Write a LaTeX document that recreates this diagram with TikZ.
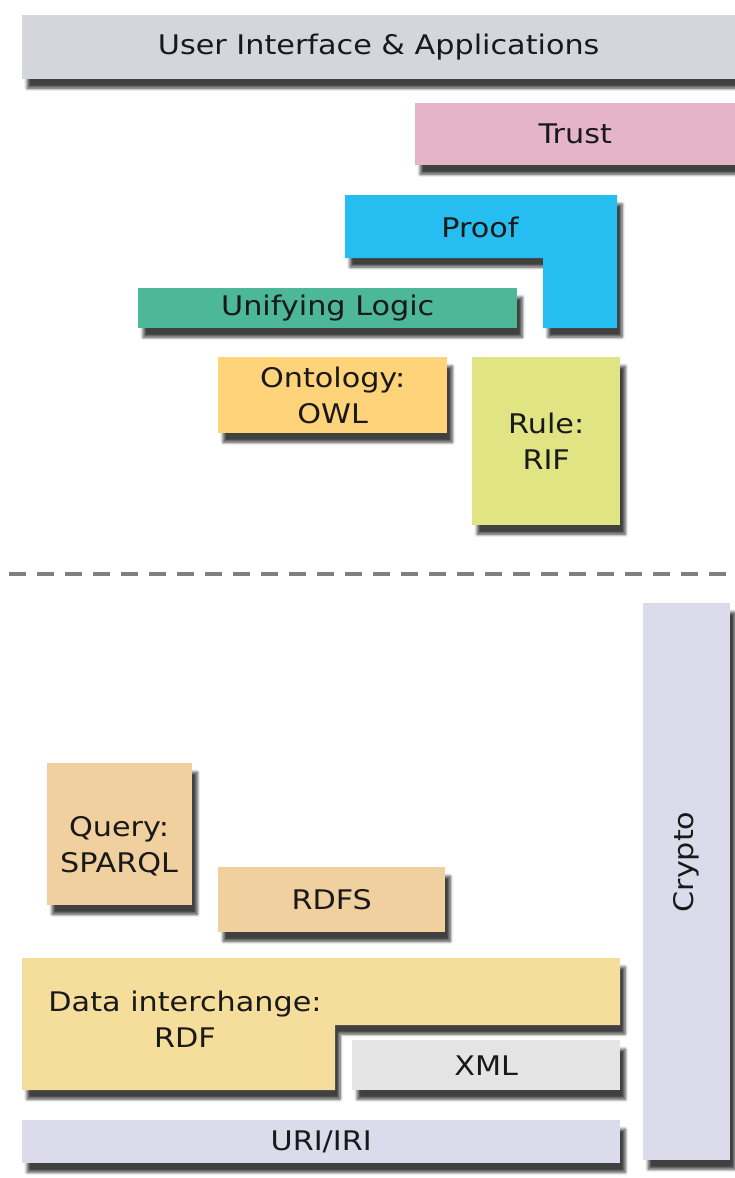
\documentclass[tikz,border=0pt]{standalone}
\usepackage{fontspec}
\setmainfont[FakeStretch=1.12]{DejaVu Sans}
\usepackage{xcolor}
\usetikzlibrary{shadows.blur}

\definecolor{uiGray}{RGB}{213,213,221}
\definecolor{trustPink}{RGB}{229,180,200}
\definecolor{proofBlue}{RGB}{38,190,240}
\definecolor{logicGreen}{RGB}{76,184,152}
\definecolor{owlOrange}{RGB}{255,211,122}
\definecolor{rifYellow}{RGB}{225,228,130}
\definecolor{cryptoLav}{RGB}{219,219,236}
\definecolor{queryTan}{RGB}{241,208,160}
\definecolor{rdfSand}{RGB}{245,222,156}
\definecolor{xmlGray}{RGB}{228,228,228}
\definecolor{dashGray}{RGB}{128,128,128}

\begin{document}
\begin{tikzpicture}[x=1pt,y=-1pt,
	shade/.style={blur shadow={shadow xshift=5pt, shadow yshift=-9pt,
		shadow opacity=75, shadow blur steps=6, shadow blur radius=3pt}},
	layer/.style={fill=#1, shade, inner sep=0pt, anchor=north west,
		align=center, text=black!90, font=\fontsize{27}{36}\selectfont},
	word/.style={text=black!90, align=center, font=\fontsize{27}{36}\selectfont}]

	\useasboundingbox (0,0) rectangle (735,1178);

	% upper part
	\begin{scope}
		\node[layer=uiGray, minimum width=713pt, minimum height=64pt] (ui) at (22,15)
			{User Interface \& Applications};
		\node[layer=trustPink, minimum width=320pt, minimum height=62pt] (trust) at (415,103)
			{Trust};

		\fill[proofBlue, shade] (345,195) -- (617,195) -- (617,328) -- (543,328)
			-- (543,258) -- (345,258) -- cycle;
		\node[word] (proof) at (480,227) {Proof};

		\node[layer=logicGreen, minimum width=379pt, minimum height=40pt] (logic) at (138,288)
			{Unifying Logic};
		\node[layer=owlOrange, minimum width=229pt, minimum height=76pt] (owl) at (218,357)
			{Ontology:\\OWL};
		\node[layer=rifYellow, minimum width=148pt, minimum height=168pt] (rif) at (472,357)
			{Rule:\\RIF};
	\end{scope}

	% separator
	\coordinate (sepL) at (9,574);
	\coordinate (sepR) at (735,574);
	\draw[dashGray, line width=4pt, dash pattern=on 17pt off 11pt] (sepL) -- (sepR);

	% lower part
	\begin{scope}
		\node[layer=cryptoLav, minimum width=87pt, minimum height=557pt] (crypto) at (643,603) {};
		\node[word, rotate=90] (cryptoText) at (686,862) {Crypto};

		\node[layer=queryTan, minimum width=145pt, minimum height=142pt] (query) at (47,763) {};
		\node[word] (queryText) at (119,846) {Query:\\SPARQL};
		\node[layer=queryTan, minimum width=227pt, minimum height=65pt] (rdfs) at (218,867)
			{RDFS};

		\fill[rdfSand, shade] (22,958) -- (620,958) -- (620,1025) -- (335,1025)
			-- (335,1090) -- (22,1090) -- cycle;
		\node[word] (rdf) at (185,1019) {Data interchange:\\RDF};

		\node[layer=xmlGray, minimum width=268pt, minimum height=50pt] (xml) at (352,1040)
			{XML};
		\node[layer=cryptoLav, minimum width=598pt, minimum height=43pt] (uri) at (22,1120)
			{URI/IRI};
	\end{scope}
\end{tikzpicture}
\end{document}
